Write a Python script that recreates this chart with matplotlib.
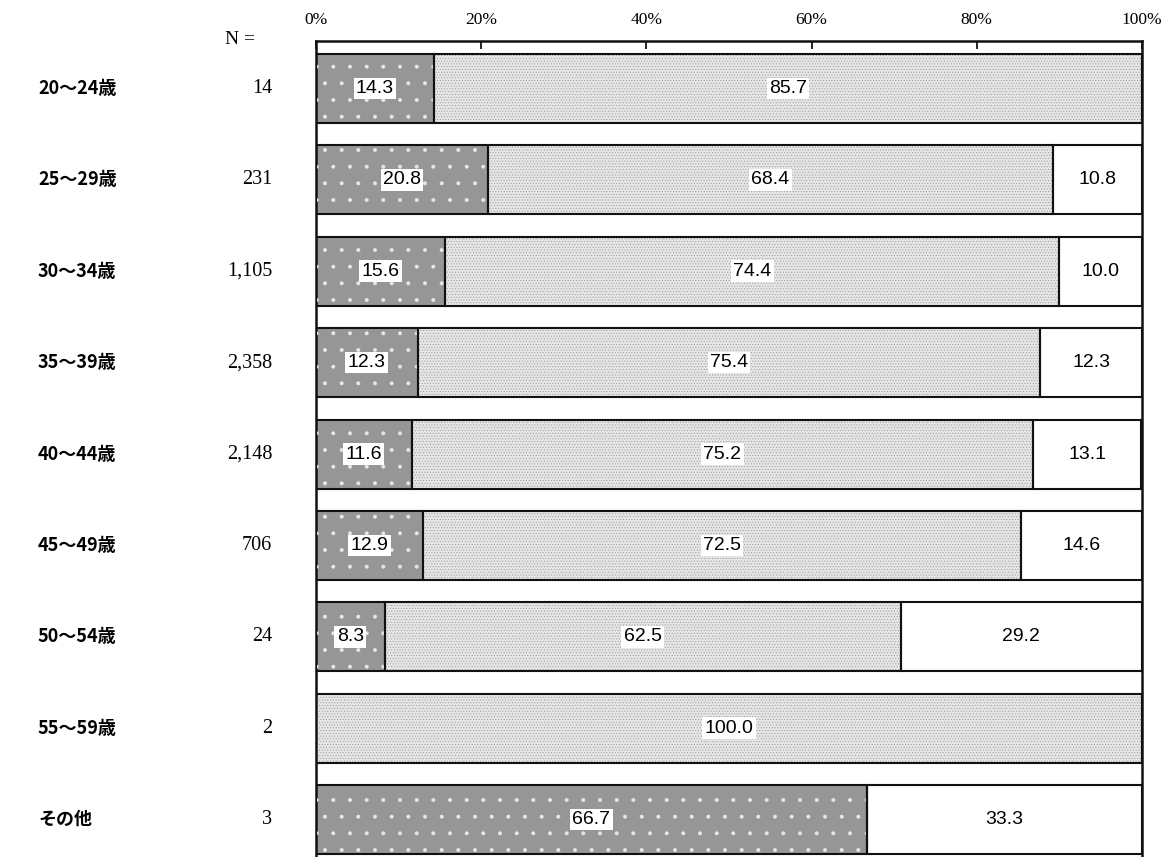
import matplotlib
matplotlib.use("Agg")
import matplotlib.pyplot as plt
import numpy as np

plt.rcParams["font.family"] = ["Noto Sans CJK JP", "DejaVu Sans"]
plt.rcParams["hatch.linewidth"] = 0.4

groups = ["20～24歳", "25～29歳", "30～34歳", "35～39歳", "40～44歳",
          "45～49歳", "50～54歳", "55～59歳", "その他"]
n_counts = ["14", "231", "1,105", "2,358", "2,148", "706", "24", "2", "3"]
seg1 = [14.3, 20.8, 15.6, 12.3, 11.6, 12.9, 8.3, 0.0, 66.7]
seg2 = [85.7, 68.4, 74.4, 75.4, 75.2, 72.5, 62.5, 100.0, 0.0]
seg3 = [0.0, 10.8, 10.0, 12.3, 13.1, 14.6, 29.2, 0.0, 33.3]

serif = ["Liberation Serif", "DejaVu Serif"]

fig = plt.figure(figsize=(11.73, 8.57), dpi=100)
ax = fig.add_axes([316 / 1173, 0.0, 826 / 1173, 1 - 41 / 857])

y = np.arange(len(groups))
h = 0.755

# segment styles: (facecolor, hatch, hatchcolor)
styles = [("#969696", ".", "#e8e8e8"),
          ("#e6e6e6", "......", "#999999"),
          ("white", None, None)]

left = np.zeros(len(groups))
for vals, (fc, hatch, hc) in zip([seg1, seg2, seg3], styles):
    vals = np.array(vals)
    ax.barh(y, vals, left=left, height=h, color=fc, edgecolor="none", zorder=2)
    if hatch:
        ax.barh(y, vals, left=left, height=h, color="none", edgecolor=hc,
                hatch=hatch, linewidth=0, zorder=3)
    ax.barh(y, vals, left=left, height=h, color="none", edgecolor="#111111",
            linewidth=1.5, zorder=4)
    for yi, v, l in zip(y, vals, left):
        if v > 0:
            ax.text(l + v / 2, yi, f"{v:.1f}", ha="center", va="center",
                    fontsize=14, family=["Liberation Sans", "DejaVu Sans"], zorder=5,
                    bbox=dict(boxstyle="square,pad=0.12", fc="white", ec="none"))
    left = left + vals

ax.set_xlim(0, 100)
ax.set_ylim(8.41, -0.52)
ax.xaxis.tick_top()
ax.set_xticks(np.arange(0, 101, 20))
ax.set_xticklabels([f"{t}%" for t in range(0, 101, 20)], family=serif, fontsize=12.5)
ax.tick_params(axis="x", direction="in", length=6, width=1.2, pad=9)
ax.set_yticks([])
for s in ["top", "left", "right"]:
    ax.spines[s].set_linewidth(1.8)
    ax.spines[s].set_color("#111111")
ax.spines["bottom"].set_visible(False)

for yi, g, n in zip(y, groups, n_counts):
    yf = ax.transData.transform((0, yi))[1] / fig.dpi / 8.57
    fig.text(38 / 1173, yf, g, ha="left", va="center", fontsize=13, fontweight="bold")
    fig.text(272 / 1173, yf, n, ha="right", va="center", fontsize=14.5, family=serif)

fig.text(240 / 1173, 1 - 40 / 857, "N =", ha="center", va="center", fontsize=14,
         family=serif)

fig.savefig("out.png", dpi=100)
